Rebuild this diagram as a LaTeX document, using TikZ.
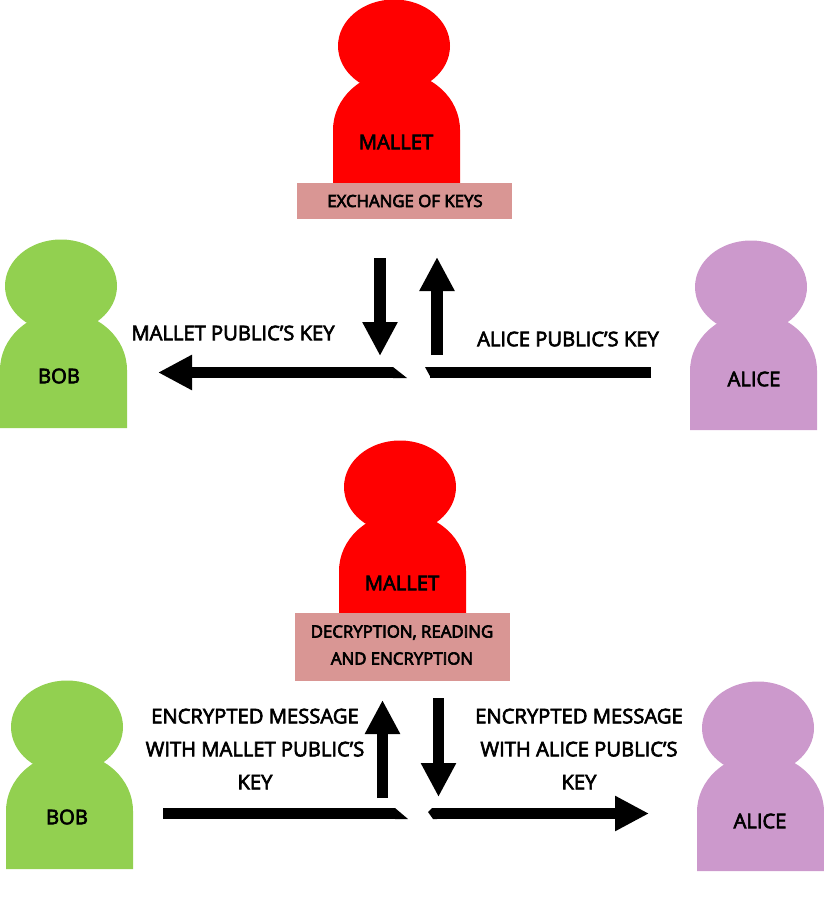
\documentclass[tikz,border=0pt]{standalone}
\usepackage{fontspec}
\setmainfont{Open Sans}
\usetikzlibrary{arrows.meta}
\definecolor{bobgreen}{HTML}{92D050}
\definecolor{alicepurple}{HTML}{CC99CC}
\definecolor{malletred}{HTML}{FF0000}
\definecolor{boxpink}{HTML}{D99694}
\tikzset{
  thicktext/.style={execute at begin node={\special{pdf:code q 2 Tr 0.65 w}},execute at end node={\special{pdf:code Q}}},
  lbl/.style={thicktext,font=\fontsize{20.2}{33}\selectfont,text=black,inner sep=0pt,align=center},
  smalllbl/.style={thicktext,font=\fontsize{16.8}{27}\selectfont,text=black,inner sep=0pt,align=center},
  fatarrow/.style={draw=black,line width=11.5pt,-{Triangle[length=34pt,width=33pt]},shorten >=0pt},
  fatline/.style={draw=black,line width=11pt},
  chamfer/.style={fill=black,draw=none}
}
% #1 body centre x, #2 head top y, #3 body bottom y, #4 colour
\newcommand{\personfig}[4]{%
  \fill[#4] (#1-2.5,#2+46) ellipse [x radius=56,y radius=46.5];
  \fill[#4] (#1-63.5,#3) -- (#1-63.5,#2+130)
     .. controls (#1-63.5,#2+98) and (#1-35,#2+72) .. (#1,#2+72)
     .. controls (#1+35,#2+72) and (#1+63.5,#2+98) .. (#1+63.5,#2+130)
     -- (#1+63.5,#3) -- cycle;
}
\begin{document}
\begin{tikzpicture}[x=1pt,y=-1pt]
\useasboundingbox (0,0) rectangle (823,901);
% persons
\personfig{63.5}{240}{428}{bobgreen}
\personfig{753.5}{241}{430}{alicepurple}
\personfig{396.5}{0}{190}{malletred}
\personfig{69.5}{681}{869}{bobgreen}
\personfig{760.5}{682}{871}{alicepurple}
\personfig{402.5}{441}{620}{malletred}
% boxes
\fill[boxpink] (297,183) rectangle (512,219);
\fill[boxpink] (295,613) rectangle (510,681);
% labels
\node[lbl] (bobA) at (59,376) {BOB};
\node[lbl] (aliceA) at (754,379) {ALICE};
\node[lbl] (malletA) at (396,142) {MALLET};
\node[smalllbl] (exch) at (405,201) {EXCHANGE OF KEYS};
\node[lbl] (keyM) at (233,333) {MALLET PUBLIC’S KEY};
\node[lbl] (keyA) at (568,339) {ALICE PUBLIC’S KEY};
\node[lbl] (bobB) at (67,817) {BOB};
\node[lbl] (aliceB) at (760,821) {ALICE};
\node[lbl] (malletB) at (402,583) {MALLET};
\node[smalllbl] (dec) at (402,645) {DECRYPTION, READING\\AND ENCRYPTION};
\node[lbl] (encM) at (255,749) {ENCRYPTED MESSAGE\\WITH MALLET PUBLIC’S\\KEY};
\node[lbl] (encA) at (579,749) {ENCRYPTED MESSAGE\\WITH ALICE PUBLIC’S\\KEY};
% connector end points
\coordinate (a1) at (380,258); \coordinate (a2) at (380,356);
\coordinate (b1) at (437,355); \coordinate (b2) at (437,257);
\coordinate (c1) at (393,372.5); \coordinate (c2) at (158,372.5);
\coordinate (d1) at (651,372.5); \coordinate (d2) at (430,372.5);
\coordinate (e1) at (382.5,798); \coordinate (e2) at (382.5,700);
\coordinate (f1) at (438.5,698); \coordinate (f2) at (438.5,797);
\coordinate (g1) at (163,813.5); \coordinate (g2) at (395,813.5);
\coordinate (h1) at (436,813.5); \coordinate (h2) at (649,813.5);
% connectors
\draw[fatarrow] (a1) -- (a2);
\draw[fatarrow] (b1) -- (b2);
\draw[fatarrow] (c1) -- (c2);
\draw[fatline] (d1) -- (d2);
\draw[fatarrow] (e1) -- (e2);
\draw[fatarrow] (f1) -- (f2);
\draw[fatline] (g1) -- (g2);
\draw[fatarrow] (h1) -- (h2);
% slanted ends
\fill[chamfer] (393,367) -- (407,378) -- (393,378) -- cycle;
\fill[chamfer] (431,367) -- (425,367) -- (431,378) -- cycle;
\fill[chamfer] (395,808) -- (408,819) -- (395,819) -- cycle;
\fill[chamfer] (437,808) -- (432,808) -- (428,812) -- (433,819) -- (437,819) -- cycle;
\end{tikzpicture}
\end{document}
